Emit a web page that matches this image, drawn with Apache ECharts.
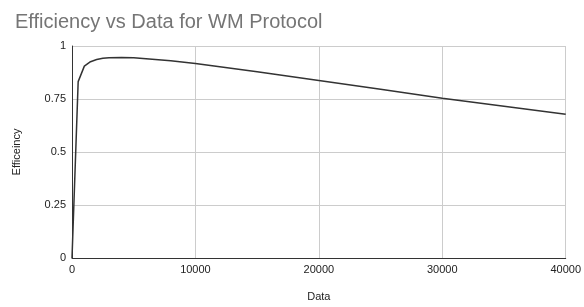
<!DOCTYPE html>
<html>
<head>
<meta charset="utf-8">
<script src="https://cdn.jsdelivr.net/npm/echarts@6/dist/echarts.min.js"></script>
<style>
  html, body { margin: 0; padding: 0; background: #fff; }
  #chart { width: 584px; height: 307px; }
</style>
</head>
<body>
<div id="chart"></div>
<script>
// 数据部分
var dataX = [0, 500, 1000, 1500, 2000, 2500, 3000, 4000, 5000, 6000, 8000, 10000, 15000, 20000, 25000, 30000, 35000, 40000];
var efficiency = [0, 0.832, 0.905, 0.926, 0.936, 0.942, 0.945, 0.946, 0.944, 0.940, 0.930, 0.918, 0.878, 0.837, 0.796, 0.754, 0.716, 0.678];
var xTicks = [0, 10000, 20000, 30000, 40000];
var yTicks = [0, 0.25, 0.5, 0.75, 1];

var chartDom = document.getElementById('chart');
var myChart = echarts.init(chartDom);

var option = {
    animation: false,
    textStyle: { fontFamily: 'Arial, "Liberation Sans", sans-serif' },
    title: {
        text: 'Efficiency vs Data for WM Protocol',
        left: 10,
        top: 7,
        textStyle: { fontSize: 20, fontWeight: 'normal', color: '#757575' }
    },
    grid: { left: 72, right: 14, top: 46, bottom: 47 },
    xAxis: {
        type: 'value',
        min: xTicks[0],
        max: xTicks[xTicks.length - 1],
        interval: 10000,
        name: 'Data',
        nameLocation: 'middle',
        nameGap: 33,
        nameTextStyle: { fontSize: 11, color: '#222' },
        axisLine: { lineStyle: { color: '#333', width: 1 } },
        axisTick: { show: false },
        axisLabel: { fontSize: 11, color: '#222', margin: 6, formatter: function (v) { return String(v); } },
        splitLine: { show: true, lineStyle: { color: '#ccc' } }
    },
    yAxis: {
        type: 'value',
        min: yTicks[0],
        max: yTicks[yTicks.length - 1],
        interval: 0.25,
        name: 'Efficeincy',
        nameLocation: 'middle',
        nameGap: 50,
        nameTextStyle: { fontSize: 11, color: '#222' },
        axisLine: { show: true, lineStyle: { color: '#333', width: 1 } },
        axisTick: { show: false },
        axisLabel: { fontSize: 11, color: '#222', margin: 6 },
        splitLine: { show: true, lineStyle: { color: '#ccc' } }
    },
    series: [{
        type: 'line',
        data: dataX.map(function (x, i) { return [x, efficiency[i]]; }),
        showSymbol: false,
        smooth: false,
        lineStyle: { color: '#333', width: 1.5 }
    }]
};

myChart.setOption(option);
</script>
</body>
</html>
